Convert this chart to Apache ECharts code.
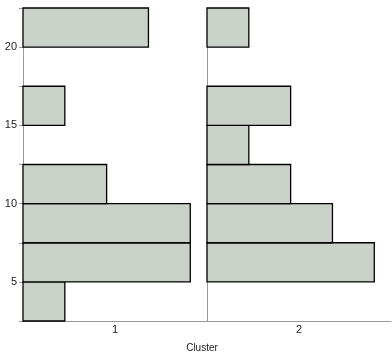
<!DOCTYPE html>
<html><head><meta charset="utf-8">
<script src="https://cdn.jsdelivr.net/npm/echarts@6/dist/echarts.min.js"></script>
<style>html,body{margin:0;padding:0;background:#fff}#c{width:392px;height:354px}</style>
</head><body><div id="c"></div>
<script>
var binStarts = [2.5, 5, 7.5, 10, 12.5, 15, 17.5, 20];
var binWidth = 2.5;
var clusters = ['1', '2'];
var cluster1Counts = [1, 4, 4, 2, 0, 1, 0, 3];
var cluster2Counts = [0, 4, 3, 2, 1, 2, 0, 1];
var yTickLabels = [5, 10, 15, 20];
var allCounts = [cluster1Counts, cluster2Counts];

var chart = echarts.init(document.getElementById('c'), null, {renderer: 'canvas'});

function rows(counts) {
  return binStarts.map(function (s, i) { return [s, s + binWidth, counts[i]]; });
}
function renderItem(params, api) {
  var c = api.value(2);
  if (!c) return null;
  var p0 = api.coord([0, api.value(1)]);
  var p1 = api.coord([c, api.value(0)]);
  return {
    type: 'rect',
    shape: {x: p0[0], y: p0[1], width: p1[0] - p0[0], height: p1[1] - p0[1]},
    style: {fill: '#c9d1c9', stroke: '#000', lineWidth: 1.3}
  };
}

var grids = [], xAxes = [], yAxes = [], series = [];
clusters.forEach(function (name, k) {
  grids.push({left: 23 + k * 184, width: 184, top: 8, bottom: 33});
  xAxes.push({
    type: 'value', gridIndex: k, min: 0, max: 4.4,
    axisLine: {show: true, lineStyle: {color: '#999', width: 1}},
    axisTick: {show: false}, axisLabel: {show: false}, splitLine: {show: false},
    name: name, nameLocation: 'middle', nameGap: 3,
    nameTextStyle: {color: '#222', fontSize: 11, fontFamily: 'Liberation Sans', verticalAlign: 'top'}
  });
  yAxes.push({
    type: 'value', gridIndex: k, min: 2.5, max: 22.5, interval: 2.5,
    axisLine: {show: true, lineStyle: {color: '#999', width: 1}},
    axisTick: {show: k === 0, length: 4, lineStyle: {color: '#999'}},
    axisLabel: {
      show: k === 0, margin: 6, color: '#222', fontSize: 11, fontFamily: 'Liberation Sans',
      formatter: function (v) { return yTickLabels.indexOf(v) >= 0 ? String(v) : ''; }
    },
    splitLine: {show: false}
  });
  series.push({
    type: 'custom', xAxisIndex: k, yAxisIndex: k,
    renderItem: renderItem, data: rows(allCounts[k]),
    encode: {y: [0, 1], x: 2}, clip: false, silent: true
  });
});

chart.setOption({
  animation: false,
  grid: grids, xAxis: xAxes, yAxis: yAxes, series: series,
  graphic: [{
    type: 'text', x: 202, y: 348,
    style: {text: 'Cluster', fill: '#222', fontSize: 10, fontFamily: 'Liberation Sans',
            align: 'center', verticalAlign: 'middle'}
  }]
});
</script></body></html>
